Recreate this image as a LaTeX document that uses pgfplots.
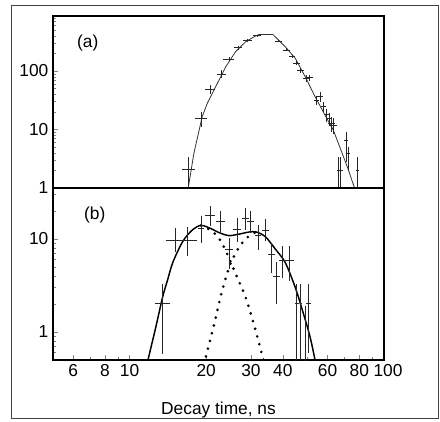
\documentclass[border=0pt]{standalone}
\usepackage{pgfplots}
\pgfplotsset{compat=1.18}
\usepackage{pgfplotstable}
\usepackage{fontspec}
\setmainfont{Liberation Sans}

\pgfplotstableread{
x y xr yp ym
17.1 2.05 0.06 0.68 0.6
19.1 15.5 0.055 0.3 0.3
20.8 48.7 0.045 0.2 0.18
23.0 88.9 0.045 0.15 0.13
24.6 158 0.05 0.08 0.08
26.7 250 0.04 0.07 0.07
29.0 330 0.04 0.05 0.05
31.7 401 0.04 0.04 0.04
38.5 326 0.03 0.05 0.05
41.5 229 0.03 0.06 0.06
43.5 176 0.03 0.07 0.07
45.4 135 0.03 0.08 0.08
47.1 104 0.03 0.1 0.1
49.4 75 0.03 0.12 0.12
50.9 77 0.03 0.12 0.12
54.4 31.9 0.025 0.18 0.18
56.1 36.4 0.025 0.18 0.18
57.8 24.5 0.025 0.2 0.2
59.6 18.2 0.025 0.25 0.25
61.0 15.5 0.025 0.25 0.25
62.3 12.8 0.03 0.3 0.3
63.2 11.9 0.03 0.3 0.3
66.1 2.0 0.015 0.7 0.6
67.7 2.0 0.015 0.7 0.6
70.9 6.6 0.015 0.39 0.57
72.7 3.9 0.015 0.3 0.5
78.5 2.0 0.015 0.7 0.6
}\dataA

\pgfplotstableread{
x y xr yp ym
13.5 2.0 0.065 0.64 0.71
15.2 9.7 0.085 0.34 0.25
16.9 9.7 0.09 0.37 0.32
19.1 13.0 0.03 0.35 0.3
20.8 17.7 0.045 0.28 0.22
22.8 15.3 0.04 0.3 0.25
24.6 7.75 0.035 0.33 0.39
26.5 12.7 0.035 0.33 0.28
28.6 16.7 0.03 0.28 0.25
29.9 15.3 0.03 0.3 0.25
32.0 10.8 0.03 0.3 0.3
34.2 12.4 0.03 0.3 0.24
36.1 6.73 0.03 0.35 0.37
37.8 3.9 0.03 0.45 0.49
39.7 5.8 0.03 0.45 0.35
42.5 5.8 0.045 0.45 0.4
45.4 2.0 0.02 0.64 0.75
47.0 2.0 0.005 0.64 0.75
49.0 1.0 0.005 0.9 0.9
50.5 2.0 0.02 0.64 0.7
}\dataB

\begin{document}
\begin{tikzpicture}
\useasboundingbox (0,0) rectangle (330pt,-316.5pt);
\draw[black!75, line width=0.6pt] (8.25pt,-3.75pt) rectangle (328.5pt,-313.5pt);
% panel (a)
\begin{axis}[at={(39.75pt,-12pt)}, anchor=north west,
  width=248.25pt, height=129pt, scale only axis,
  xmode=log, ymode=log, xmin=5, xmax=100,
  axis line style={line width=1.5pt},
  major tick length=4pt, minor tick length=2.5pt,
  tick align=inside, xtick pos=bottom, ytick pos=left,
  tick label style={font=\fontsize{13}{15}\selectfont},
  /pgf/number format/assume math mode=true,
  ymin=1, ymax=870,
  xtick=\empty,
  ytick={1,10,100}, yticklabels={1,10,100},
  minor ytick={2,3,4,5,6,7,8,9,20,30,40,50,60,70,80,90,200,300,400,500,600,700,800},
]
\addplot[black!80, line width=0.6pt] coordinates {
(16.8,0.9) (17.0,1.0) (17.9,3.92) (19.3,16.6) (20.2,28.0) (21.8,53.9) (23.9,118.5)
(26.1,214) (28.6,317) (31.3,397) (32.3,420) (36.6,420) (40.9,260) (44.8,165)
(49.0,80) (53.6,36.4) (58.6,17.7) (63.2,9.8) (68.1,4.18) (72.3,2.1) (76.9,0.95)
};
\addplot[draw=none, mark=none,
    error bars/x dir=both, error bars/x explicit relative,
    error bars/y dir=both, error bars/y explicit relative,
    error bars/error mark=none,
    error bars/error bar style={draw=black!85, line width=0.6pt}]
  table[x=x, y=y, x error=xr, y error plus=yp, y error minus=ym] {\dataA};
\node[font=\fontsize{13}{15}\selectfont] at (axis cs:6.85,301) {(a)};
\end{axis}
% panel (b)
\begin{axis}[at={(39.75pt,-141pt)}, anchor=north west,
  width=248.25pt, height=129pt, scale only axis,
  xmode=log, ymode=log, xmin=5, xmax=100,
  axis line style={line width=1.5pt},
  major tick length=4pt, minor tick length=2.5pt,
  tick align=inside, xtick pos=bottom, ytick pos=left,
  tick label style={font=\fontsize{13}{15}\selectfont},
  /pgf/number format/assume math mode=true,
  ymin=0.5, ymax=35,
  xtick={6,8,10,20,30,40,60,80,100},
  xticklabels={6,8,10,20,30,40,60,80,\hspace*{6pt}100},
  minor xtick={7,9,50,70,90},
  ytick={1,10}, yticklabels={1,10},
  minor ytick={0.6,0.7,0.8,0.9,2,3,4,5,6,7,8,9,20,30},
  xlabel={Decay time, ns},
  xlabel style={at={(axis description cs:0.5,0)}, anchor=center, yshift=-37.5pt,
    font=\fontsize{13}{15}\selectfont},
]
\addplot[black, line width=1.1pt, smooth, tension=0.5] coordinates {
(11.7,0.45) (12.0,0.6) (12.7,1.15) (13.5,2.4) (14.1,3.6) (14.8,5.6) (16.2,9.4)
(17.7,12.5) (19.1,13.9) (20.8,12.9) (22.7,11.5) (24.6,10.8) (26.9,11.2) (29.5,11.8)
(31.5,11.8) (34.2,10.5) (37.4,7.75) (40.9,5.56) (44.8,3.0) (48.3,1.55) (51.3,0.87) (54.0,0.45)
};
\addplot[black, line width=2.2pt, line cap=round, dash pattern=on 0pt off 6pt, smooth, tension=0.5] coordinates {
(19.1,13.9) (21.1,12.0) (22.8,9.5) (24.6,6.2) (26.5,3.84) (28.6,2.34) (30.8,1.21) (33.3,0.55) (34.0,0.45)
};
\addplot[black, line width=2.2pt, line cap=round, dash pattern=on 0pt off 6pt, smooth, tension=0.5] coordinates {
(19.7,0.45) (19.9,0.53) (21.5,1.21) (23.1,2.76) (24.9,5.35) (26.9,8.06) (29.0,10.3) (31.2,11.7)
};
\addplot[draw=none, mark=none,
    error bars/x dir=both, error bars/x explicit relative,
    error bars/y dir=both, error bars/y explicit relative,
    error bars/error mark=none,
    error bars/error bar style={draw=black!85, line width=0.6pt}]
  table[x=x, y=y, x error=xr, y error plus=yp, y error minus=ym] {\dataB};
\node[font=\fontsize{13}{15}\selectfont] at (axis cs:7.3,18.1) {(b)};
\end{axis}
\end{tikzpicture}
\end{document}
